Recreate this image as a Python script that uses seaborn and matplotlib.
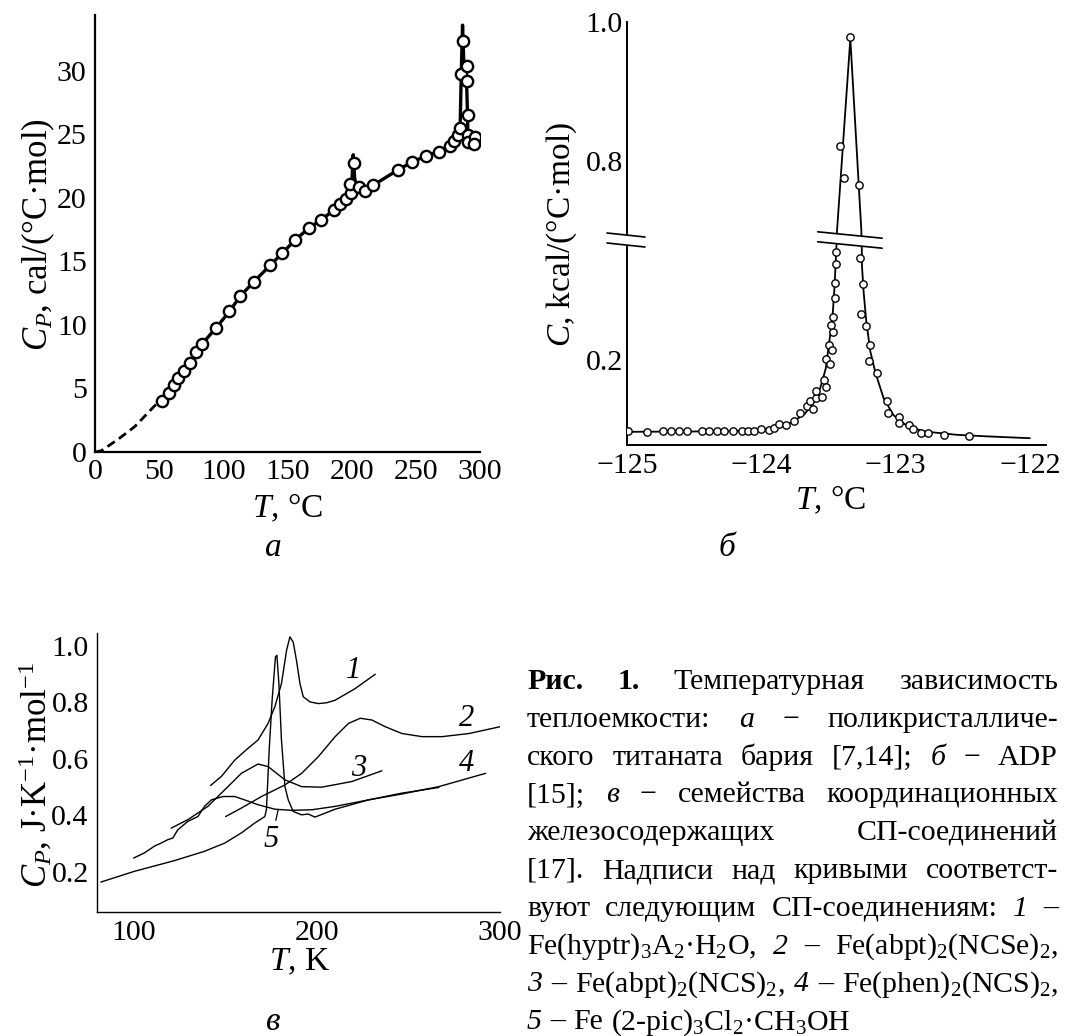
import numpy as np
import matplotlib
matplotlib.use('Agg')
import matplotlib.pyplot as plt
from matplotlib.ticker import FixedLocator, MultipleLocator, NullLocator
import matplotlib.transforms as mtransforms
import seaborn as sns

# ---------------- data: panel a (BaTiO3, cal/(C mol)) ----------------
a_pts_T = [52.2, 57.4, 61.3, 64.7, 69.3, 73.7, 78.9, 83.5, 94.4, 104.7, 113.3, 123.6,
           136.5, 146.1, 155.9, 166.8, 175.9, 186.2, 190.9, 195.3, 199.1, 198.6, 201.7,
           205.6, 210.2, 216.7, 236.1, 247.2, 258.1, 267.9, 276.4, 279.8, 282.7, 284.5,
           285.3, 286.5, 289.6, 289.6, 290.4, 290.4, 290.4, 296.1, 295.3]
a_pts_C = [4.03, 4.62, 5.25, 5.81, 6.38, 7.03, 7.86, 8.51, 9.78, 11.06, 12.28, 13.39,
           14.69, 15.68, 16.68, 17.64, 18.24, 19.06, 19.51, 19.91, 20.36, 21.07, 22.77,
           20.84, 20.56, 20.99, 22.21, 22.83, 23.31, 23.65, 24.11, 24.45, 24.93, 25.52,
           29.78, 32.33, 30.35, 29.21, 26.52, 24.96, 24.39, 24.76, 24.25]
a_line_T = [52.2, 57.4, 61.3, 64.7, 69.3, 73.7, 78.9, 83.5, 94.4, 104.7, 113.3, 123.6,
            136.5, 146.1, 155.9, 166.8, 175.9, 186.2, 190.9, 195.3, 199.1, 200.3, 201.2,
            202.3, 203.5, 205.6, 210.2, 216.7, 236.1, 247.2, 258.1, 267.9, 276.4, 279.8,
            282.7, 284.5, 285.4, 286.4, 287.4, 289.4, 290.3, 290.6]
a_line_C = [4.03, 4.62, 5.25, 5.81, 6.38, 7.03, 7.86, 8.51, 9.78, 11.06, 12.28, 13.39,
            14.69, 15.68, 16.68, 17.64, 18.24, 19.06, 19.51, 19.91, 20.36, 21.5, 23.4,
            21.6, 20.9, 20.84, 20.56, 20.99, 22.21, 22.83, 23.31, 23.65, 24.11, 24.45,
            24.93, 25.52, 29.8, 33.6, 30.6, 29.6, 26.5, 24.6]
a_dash_T = [0.0, 5.0, 18.0, 31.0, 41.4, 49.0, 52.2]
a_dash_C = [0.0, 0.1, 1.0, 2.0, 3.1, 3.9, 4.03]

# ---------------- data: panel b (ADP, kcal/(C mol)) ----------------
b_pts_T = [-124.990, -124.851, -124.735, -124.673, -124.616, -124.550, -124.443, -124.389,
           -124.327, -124.277, -124.208, -124.141, -124.099, -124.054, -124.005, -123.943,
           -123.906, -123.869, -123.819, -123.757, -123.713, -123.658, -123.634, -123.614,
           -123.594, -123.594, -123.547, -123.530, -123.515, -123.520, -123.490, -123.495,
           -123.470, -123.463, -123.480, -123.465, -123.450, -123.450, -123.446, -123.446,
           -123.416, -123.386, -123.337, -123.275, -123.267, -123.243, -123.257, -123.218,
           -123.193, -123.196, -123.139, -123.064, -123.059, -122.978, -122.978, -122.903,
           -122.871, -122.809, -122.755, -122.636, -122.450]
b_pts_C = [0.032, 0.030, 0.032, 0.034, 0.032, 0.032, 0.033, 0.033, 0.032, 0.033, 0.033,
           0.034, 0.033, 0.034, 0.037, 0.036, 0.040, 0.049, 0.046, 0.057, 0.076, 0.091,
           0.104, 0.084, 0.110, 0.127, 0.112, 0.154, 0.137, 0.203, 0.190, 0.235, 0.224,
           0.266, 0.283, 0.301, 0.347, 0.382, 0.425, 0.455, 0.821, 0.775, 0.979, 0.766,
           0.439, 0.380, 0.309, 0.279, 0.235, 0.197, 0.169, 0.104, 0.076, 0.066, 0.051,
           0.048, 0.038, 0.029, 0.029, 0.024, 0.021]
b_line_T = [-125.0, -124.4, -124.05, -123.906, -123.78, -123.68, -123.61, -123.56, -123.52,
            -123.495, -123.47, -123.455, -123.446, -123.440, -123.436, -123.337, -123.255,
            -123.252, -123.250, -123.238, -123.218, -123.188, -123.15, -123.089, -123.015,
            -122.916, -122.792, -122.545, -122.297, -122.0]
b_line_C = [0.031, 0.032, 0.034, 0.040, 0.052, 0.072, 0.100, 0.135, 0.18, 0.24, 0.30, 0.37,
            0.43, 0.47, 0.70, 0.976, 0.70, 0.47, 0.42, 0.36, 0.29, 0.22, 0.17, 0.11, 0.07,
            0.045, 0.032, 0.024, 0.020, 0.016]
# axis break: lower part ends / upper part starts
B_LO, B_HI = 0.4706, 0.6935

# ---------------- data: panel v (SCO compounds, J/(K mol)) ----------------
v1_T = [142.0, 147.9, 155.2, 162.5, 167.9, 173.4, 177.1, 180.7, 183.5, 185.3, 187.1, 188.9,
        190.8, 192.6, 196.3, 200.8, 205.4, 210.0, 220.9, 231.9]
v1_C = [0.506, 0.538, 0.596, 0.638, 0.667, 0.726, 0.785, 0.867, 0.985, 1.032, 1.014, 0.949,
        0.867, 0.820, 0.802, 0.796, 0.799, 0.808, 0.849, 0.900]
v2_T = [150.2, 158.8, 169.8, 182.6, 191.7, 200.8, 210.0, 217.3, 223.7, 230.0, 237.4, 246.5,
        257.4, 268.4, 283.0, 300.0]
v2_C = [0.396, 0.426, 0.467, 0.508, 0.549, 0.608, 0.679, 0.726, 0.744, 0.738, 0.714, 0.690,
        0.679, 0.679, 0.690, 0.714]
v3_T = [120.5, 129.6, 140.5, 151.5, 158.8, 167.9, 173.4, 182.6, 191.7, 202.6, 219.1, 235.5]
v3_C = [0.355, 0.385, 0.432, 0.502, 0.549, 0.582, 0.573, 0.526, 0.502, 0.500, 0.520, 0.558]
v4_T = [82.1, 100.4, 122.3, 138.7, 149.7, 158.8, 166.1, 171.6, 172.5, 174.0, 175.6, 177.4,
        178.2, 179.3, 180.7, 182.6, 184.4, 187.1, 191.7, 195.3, 199.0, 210.0, 228.2, 246.5,
        266.6, 292.1]
v4_C = [0.164, 0.202, 0.240, 0.273, 0.302, 0.338, 0.373, 0.396, 0.420, 0.632, 0.808, 0.961,
        0.967, 0.867, 0.667, 0.502, 0.455, 0.414, 0.402, 0.405, 0.394, 0.422, 0.455, 0.476,
        0.502, 0.549]
v5_T = [100.0, 105.8, 111.3, 115.0, 118.6, 121.4, 124.1, 129.6, 135.1, 138.7, 142.4, 148.8,
        155.2, 160.6, 167.9, 177.1, 186.2, 197.2, 210.0, 228.2, 246.5, 266.6]
v5_C = [0.249, 0.267, 0.291, 0.302, 0.314, 0.320, 0.349, 0.379, 0.396, 0.432, 0.455, 0.467,
        0.467, 0.455, 0.438, 0.422, 0.418, 0.420, 0.432, 0.455, 0.479, 0.499]
v_curves = [(v1_T, v1_C), (v2_T, v2_C), (v3_T, v3_C), (v4_T, v4_C), (v5_T, v5_C)]
v_labels = ['1', '2', '3', '4', '5']
v_label_T = [220.0, 282.0, 222.7, 282.0, 175.3]
v_label_C = [0.914, 0.744, 0.567, 0.585, 0.315]

# ---------------- style ----------------
sns.set_theme(style='white')
plt.rcParams['font.family'] = ['Liberation Serif', 'DejaVu Serif']
plt.rcParams['mathtext.fontset'] = 'custom'
plt.rcParams['mathtext.rm'] = 'Liberation Serif'
plt.rcParams['mathtext.it'] = 'Liberation Serif:italic'
plt.rcParams['mathtext.bf'] = 'Liberation Serif:bold'
plt.rcParams['text.color'] = 'black'
plt.rcParams['xtick.color'] = 'black'
plt.rcParams['ytick.color'] = 'black'

W, H = 1067, 1036
TICK_FS = 21.5
YLAB_FS = 25
XLAB_FS = 24
LET_FS = 24
CAP_FS = 21.5

fig = plt.figure(figsize=(W / 100, H / 100), dpi=100)
fig.patch.set_facecolor('white')


def add_ax(left, top, right, bottom):
    return fig.add_axes([left / W, 1 - bottom / H, (right - left) / W, (bottom - top) / H])


def style_ax(ax, lw):
    for s in ['top', 'right']:
        ax.spines[s].set_visible(False)
    for s in ['left', 'bottom']:
        ax.spines[s].set_linewidth(lw)
        ax.spines[s].set_color('black')
    ax.set_facecolor('white')
    ax.tick_params(direction='in', labelsize=TICK_FS, width=lw, colors='black')
    ax.set_xlabel('')
    ax.set_ylabel('')


def ftext(x, y, s, **kw):
    return fig.text(x / W, 1 - y / H, s, **kw)


# ---------------- panel a ----------------
ax_a = add_ax(95, 15, 480, 452)
sns.lineplot(x=a_dash_T, y=a_dash_C, ax=ax_a, color='black', lw=2.0,
             linestyle=(0, (3.2, 1.8)), estimator=None, sort=False)
sns.lineplot(x=a_line_T, y=a_line_C, ax=ax_a, color='black', lw=2.4,
             estimator=None, sort=False)
sns.scatterplot(x=a_pts_T, y=a_pts_C, ax=ax_a, color='white', edgecolor='black',
                s=66, linewidth=1.7, zorder=5)
ax_a.set_xlim(0, 300)
ax_a.set_ylim(0, 34.4)
ax_a.set_xticks(np.arange(0, 301, 50))
ax_a.set_yticks(np.arange(0, 31, 5))
style_ax(ax_a, 1.6)
ax_a.tick_params(axis='x', length=5, pad=5)
ax_a.tick_params(axis='y', length=6, pad=6)
ftext(38, 235, r'$C_P$, cal/(°C·mol)', fontsize=YLAB_FS, rotation=90, ha='center', va='center')
ftext(287, 508, r'$T$, °C', fontsize=XLAB_FS, ha='center', va='center')
ftext(273, 548, 'а', fontsize=LET_FS, fontstyle='italic', ha='center', va='center')

# ---------------- panel b (broken y axis) ----------------
ax_b = add_ax(627, 22, 1046, 445)
_yk = [-1.0, 0.0, B_LO, B_HI, 1.0, 2.0]
_yv = [-425.0, 0.0, 200.0, 210.0, 423.0, 1118.0]


def _fwd(y):
    return np.interp(y, _yk, _yv)


def _inv(v):
    return np.interp(v, _yv, _yk)


ax_b.set_yscale('function', functions=(_fwd, _inv))
sns.lineplot(x=b_line_T, y=b_line_C, ax=ax_b, color='black', lw=1.3,
             estimator=None, sort=False)
sns.scatterplot(x=b_pts_T, y=b_pts_C, ax=ax_b, color='white', edgecolor='black',
                s=28, linewidth=1.0, zorder=5)
ax_b.set_xlim(-125, -121.88)
ax_b.set_ylim(0, 1.0)
ax_b.xaxis.set_major_locator(FixedLocator([-125, -124, -123, -122]))
ax_b.yaxis.set_major_locator(FixedLocator([0.2, 0.8, 1.0]))
ax_b.yaxis.set_minor_locator(NullLocator())
ax_b.set_yticklabels(['0.2', '0.8', '1.0'])
ax_b.set_xticklabels(['\u2212125', '\u2212124', '\u2212123', '\u2212122'])
style_ax(ax_b, 1.4)
ax_b.tick_params(axis='x', length=6, pad=6)
ax_b.tick_params(axis='y', length=12, pad=3)

# break marks: on the axis and across the curve
yb = ax_b.transAxes.inverted().transform(
    ax_b.transData.transform((-125, B_LO)))[1] + 5.0 / 423
gap, drop = 10.0 / 423, 4.0 / 423
blend = mtransforms.blended_transform_factory(ax_b.transData, ax_b.transAxes)
for (x0, x1, tr, dd) in [(-20.0 / 419, 18.0 / 419, ax_b.transAxes, drop),
                         (-123.58, -123.10, blend, drop * 1.6)]:
    top0, top1 = yb + gap / 2 + dd / 2, yb + gap / 2 - dd / 2
    bot0, bot1 = yb - gap / 2 + dd / 2, yb - gap / 2 - dd / 2
    ax_b.fill([x0, x1, x1, x0], [top0, top1, bot1, bot0], color='white',
              transform=tr, clip_on=False, zorder=6, lw=0)
    ax_b.plot([x0, x1], [top0, top1], color='black', lw=1.2, transform=tr,
              clip_on=False, zorder=7)
    ax_b.plot([x0, x1], [bot0, bot1], color='black', lw=1.2, transform=tr,
              clip_on=False, zorder=7)
ftext(562, 234, r'$C$, kcal/(°C·mol)', fontsize=24, rotation=90, ha='center', va='center')
ftext(830, 500, r'$T$, °C', fontsize=XLAB_FS, ha='center', va='center')
ftext(727, 548, 'б', fontsize=LET_FS, fontstyle='italic', ha='center', va='center')

# ---------------- panel v ----------------
ax_v = add_ax(97, 633, 500, 912)
for T, C in v_curves:
    sns.lineplot(x=T, y=C, ax=ax_v, color='black', lw=1.0, estimator=None, sort=False)
ax_v.set_xlim(80, 300)
ax_v.set_ylim(0.058, 1.046)
ax_v.xaxis.set_major_locator(FixedLocator([100, 200, 300]))
ax_v.xaxis.set_minor_locator(MultipleLocator(10))
ax_v.yaxis.set_major_locator(FixedLocator([0.2, 0.4, 0.6, 0.8, 1.0]))
ax_v.yaxis.set_minor_locator(MultipleLocator(0.1))
ax_v.set_yticklabels(['0.2', '0.4', '0.6', '0.8', '1.0'])
style_ax(ax_v, 1.0)
ax_v.tick_params(axis='both', which='major', length=5, width=1.0, pad=6)
ax_v.tick_params(axis='both', which='minor', length=3.5, width=1.0, direction='in')
for lab, tx, cy in zip(v_labels, v_label_T, v_label_C):
    if lab == '5':
        ax_v.annotate(lab, xy=(178.9, 0.42), xytext=(tx, cy), fontsize=22, fontstyle='italic',
                      ha='center', va='center',
                      arrowprops=dict(arrowstyle='-', lw=0.9, color='black', shrinkA=1, shrinkB=0))
    else:
        ax_v.text(tx, cy, lab, fontsize=22, fontstyle='italic', ha='center', va='center')
ftext(36, 775, r'$C_P$, J·K$^{-1}$·mol$^{-1}$', fontsize=YLAB_FS, rotation=90,
      ha='center', va='center')
ftext(300, 962, r'$T$, K', fontsize=XLAB_FS, ha='center', va='center')
ftext(273, 1022, 'в', fontsize=LET_FS, fontstyle='italic', ha='center', va='center')

# ---------------- caption (justified) ----------------
caption = [
    [('Рис.', 'b'), ('1.', 'b'), ('Температурная', 'n'), ('зависимость', 'n')],
    [('теплоемкости:', 'n'), ('а', 'i'), ('\u2212', 'n'), ('поликристалличе-', 'n')],
    [('ского', 'n'), ('титаната', 'n'), ('бария', 'n'), ('[7,14];', 'n'), ('б', 'i'),
     ('\u2212', 'n'), ('ADP', 'n')],
    [('[15];', 'n'), ('в', 'i'), ('\u2212', 'n'), ('семейства', 'n'), ('координационных', 'n')],
    [('железосодержащих', 'n'), ('СП-соединений', 'n')],
    [('[17].', 'n'), ('Надписи', 'n'), ('над', 'n'), ('кривыми', 'n'), ('соответст-', 'n')],
    [('вуют', 'n'), ('следующим', 'n'), ('СП-соединениям:', 'n'), ('1', 'i'), ('–', 'n')],
    [('Fe(hyptr)$_3$A$_2$·H$_2$O,', 'n'), ('2', 'i'), ('–', 'n'),
     ('Fe(abpt)$_2$(NCSe)$_2$,', 'n')],
    [('3', 'i'), ('–', 'n'), ('Fe(abpt)$_2$(NCS)$_2$,', 'n'), ('4', 'i'), ('–', 'n'),
     ('Fe(phen)$_2$(NCS)$_2$,', 'n')],
    [('5', 'i'), ('–', 'n'), ('Fe', 'n'), ('(2-pic)$_3$Cl$_2$·CH$_3$OH', 'n')],
]
X0, X1 = 527, 1058
Y0, DY = 689, 37.8
renderer = fig.canvas.get_renderer()
for i, tokens in enumerate(caption):
    y = Y0 + i * DY
    objs = []
    for txt, st in tokens:
        objs.append(ftext(0, y, txt, fontsize=CAP_FS, ha='left', va='baseline',
                          fontstyle='italic' if st == 'i' else 'normal',
                          fontweight='bold' if st == 'b' else 'normal'))
    widths = [o.get_window_extent(renderer).width for o in objs]
    if i < len(caption) - 1 and len(objs) > 1:
        space = (X1 - X0 - sum(widths)) / (len(objs) - 1)
    else:
        space = 0.27 * CAP_FS * 100 / 72
    x = X0
    for o, w in zip(objs, widths):
        o.set_x(x / W)
        x += w + space

fig.savefig('out.png', dpi=100, facecolor='white')
